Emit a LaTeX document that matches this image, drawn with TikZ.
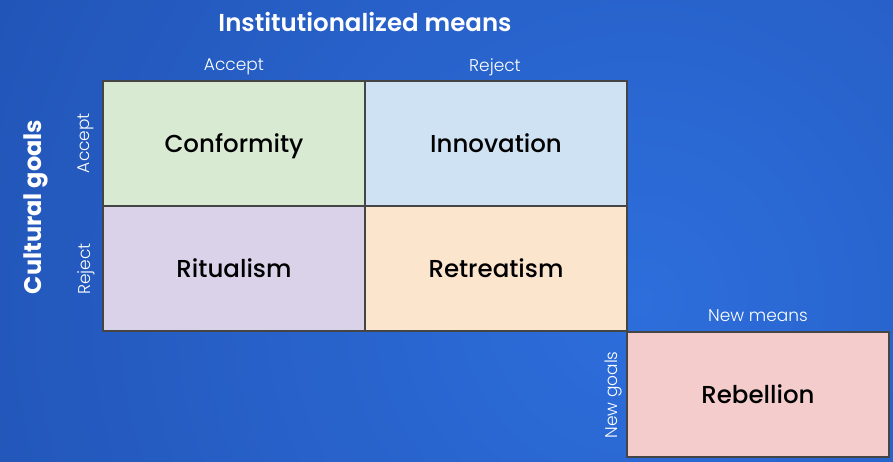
\documentclass[tikz,border=0pt]{standalone}
\usepackage{fontspec}
\setmainfont{Poppins}
\newfontfamily\cellfont{Poppins Medium}
\newfontfamily\titlefont{Poppins SemiBold}
\newfontfamily\labelfont{Poppins Light}
\begin{document}
\definecolor{bgin}{HTML}{2D6EDC}
\definecolor{bgout}{HTML}{1C47A3}
\definecolor{cellline}{HTML}{454545}
\definecolor{conffill}{HTML}{D9EAD3}
\definecolor{innofill}{HTML}{CFE2F3}
\definecolor{ritufill}{HTML}{D9D2E9}
\definecolor{retrfill}{HTML}{FCE5CD}
\definecolor{rebefill}{HTML}{F4CCCC}
\begin{tikzpicture}[x=1pt,y=-1pt,
  cell/.style={draw=cellline, line width=1.4pt, minimum width=262pt, minimum height=125pt,
    inner sep=0pt, text height=17pt, text depth=0pt,
    font=\fontsize{24.5}{28}\cellfont, text=black},
  axislabel/.style={text=white, font=\fontsize{17}{20}\labelfont, inner sep=0pt},
  titlelabel/.style={text=white, font=\fontsize{24.5}{28}\titlefont, inner sep=0pt}]
  % background
  \begin{scope}
    \clip (0,0) rectangle (893,461);
    \shade[inner color=bgin, outer color=bgout] (640,300) circle (1100);
  \end{scope}
  \useasboundingbox (0,0) rectangle (893,461);

  % the 2x2 grid of adaptations
  \node[cell, fill=conffill] (conformity) at (234,143.5) {Conformity};
  \node[cell, fill=innofill] (innovation) at (496,143.5) {Innovation};
  \node[cell, fill=ritufill] (ritualism) at (234,268.5) {Ritualism};
  \node[cell, fill=retrfill] (retreatism) at (496,268.5) {Retreatism};
  \node[cell, fill=rebefill] (rebellion) at (758,394.5) {Rebellion};

  % axis titles
  \node[titlelabel] (means) at (365,22) {Institutionalized means};
  \node[titlelabel, rotate=90, font=\fontsize{24}{28}\bfseries] (goals) at (36,207) {Cultural goals};

  % column and row labels
  \node[axislabel] (meansaccept) at (234,67) {Accept};
  \node[axislabel] (meansreject) at (495,67) {Reject};
  \node[axislabel, rotate=90] (goalsaccept) at (86,143) {Accept};
  \node[axislabel, rotate=90] (goalsreject) at (86,269) {Reject};
  \node[axislabel] (newmeans) at (758,316) {New means};
  \node[axislabel, rotate=90] (newgoals) at (613,395) {New goals};
\end{tikzpicture}
\end{document}
